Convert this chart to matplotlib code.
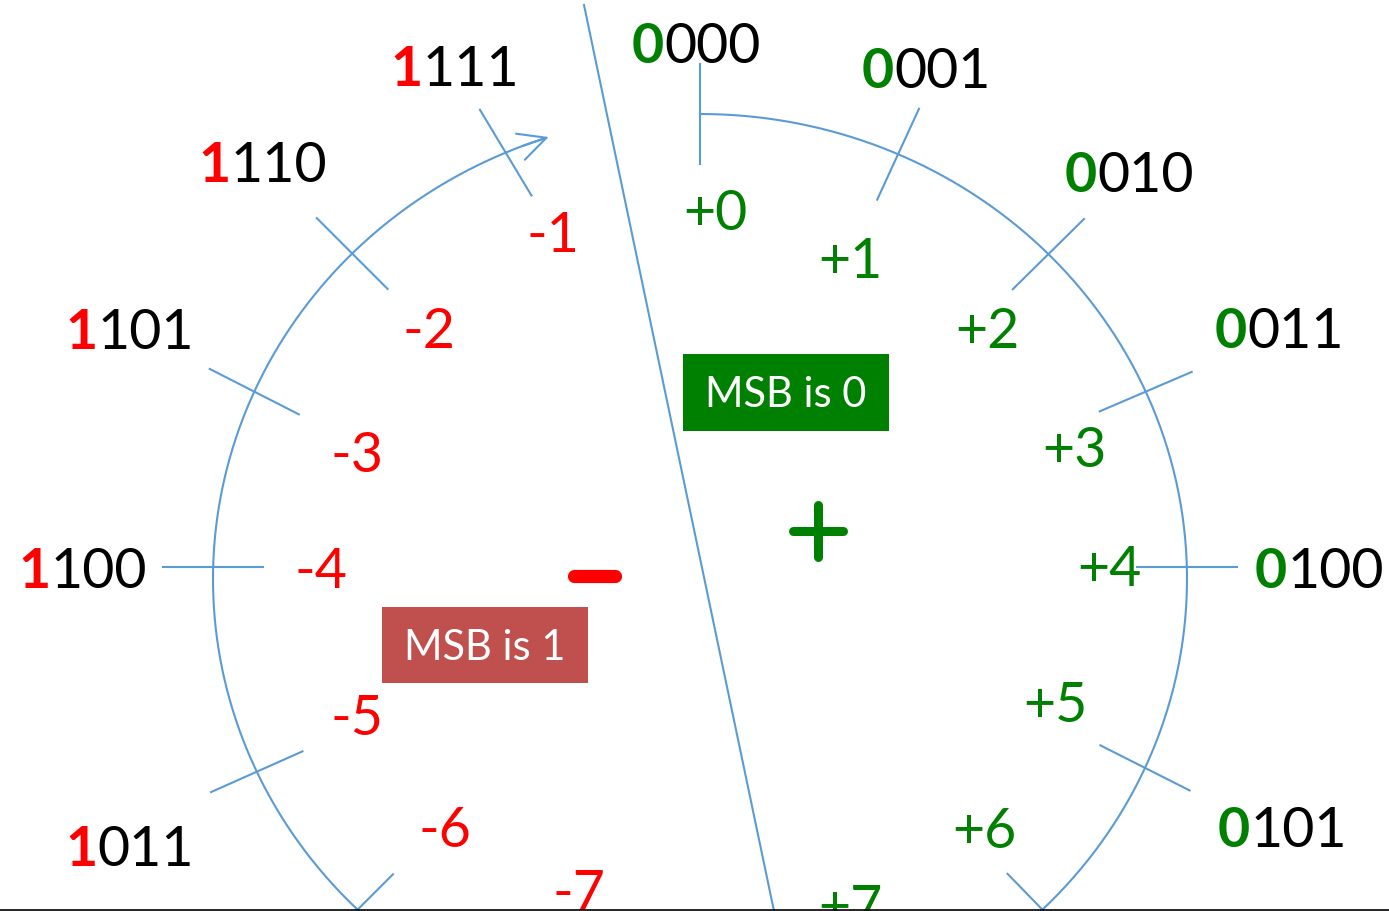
import numpy as np
import matplotlib
matplotlib.use('Agg')
import matplotlib.pyplot as plt

# data: codes and values around the wheel
pos_codes = ['0000', '0001', '0010', '0011', '0100', '0101']
neg_codes = ['1111', '1110', '1101', '1100', '1011']
pos_values = ['+0', '+1', '+2', '+3', '+4', '+5', '+6', '+7']
neg_values = ['-1', '-2', '-3', '-4', '-5', '-6', '-7']
msb_texts = ['MSB is 0', 'MSB is 1']

# layout (pixel coords, y down): left x, baseline y
pos_code_xy = [(632, 63), (862, 88), (1065, 192), (1215, 348), (1255, 588), (1218, 847)]
neg_code_xy = [(390, 86), (198, 182), (65, 349), (18, 588), (65, 866)]
pos_val_xy = [(683, 230), (818, 278), (955, 348), (1042, 467), (1077, 586),
              (1023, 722), (952, 848), (818, 925)]
neg_val_xy = [(527, 252), (402, 348), (330, 472), (295, 588), (330, 735),
              (419, 847), (552, 910)]
# tick layout: where each tick crosses the wheel (polar angle) and its direction
tick_cross = [0, 25, 47, 67.2, 88.6, 113, 134, 157.5,
              -24.5, -46.9, -67.2, -88.6, -113.5, -134, -157.5]
tick_dir = [0, 24.7, 45.4, 66.8, 90, 116.8, 135.8, 157.5,
            -31, -45, -63, -90, -114, -135, -157.5]

RED = '#FF0000'
GREEN = '#008000'
BLUE = '#5B9BD5'
FS = 40
FONT = 'Lato'

W, H = 1389, 912
fig = plt.figure(figsize=(W / 100, H / 100), dpi=100)
ax = fig.add_axes([0, 0, 1, 1])
ax.set_xlim(0, W)
ax.set_ylim(H, 0)
ax.axis('off')

cx, cy, ra, rb = 700, 580, 487, 465


def ell_r(th):
    return 1.0 / np.sqrt((np.sin(th) / ra) ** 2 + (np.cos(th) / rb) ** 2)


def ell_pts(t0, t1, n=400):
    th = np.deg2rad(np.linspace(t0, t1, n))
    r = ell_r(th)
    return cx + r * np.sin(th), cy - r * np.cos(th)


# arcs
x, y = ell_pts(0, 180)
ax.plot(x, y, color=BLUE, lw=1.5)
x, y = ell_pts(-180, -19.5)
ax.plot(x, y, color=BLUE, lw=1.5)
tx, ty = ell_pts(-19.5, -18.9, 2)
ax.annotate('', xy=(tx[1], ty[1]), xytext=(x[-8], y[-8]),
            arrowprops=dict(arrowstyle='->,head_length=0.9,head_width=0.45',
                            color=BLUE, lw=1.5, mutation_scale=22,
                            shrinkA=0, shrinkB=0))

# ticks
for a_c, a_d in zip(tick_cross, tick_dir):
    tc = np.deg2rad(a_c)
    rc = ell_r(tc)
    p = np.array([cx + rc * np.sin(tc), cy - rc * np.cos(tc)])
    td = np.deg2rad(a_d)
    d = np.array([np.sin(td), -np.cos(td)])
    p0 = p - d * 50
    p1 = p + d * 50
    ax.plot([p0[0], p1[0]], [p0[1], p1[1]], color=BLUE, lw=1.5)

# divider
ax.plot([584, 774], [6, 912], color=BLUE, lw=1.5)

r = fig.canvas.get_renderer()


def bin_label(xy, code, col):
    t = ax.text(xy[0], xy[1], code[0], color=col, fontweight='bold', fontsize=FS,
                family=FONT, ha='left', va='baseline')
    w = t.get_window_extent(renderer=r).width
    ax.text(xy[0] + w, xy[1], code[1:], color='black', fontsize=FS,
            family=FONT, ha='left', va='baseline')


for code, xy in zip(pos_codes, pos_code_xy):
    bin_label(xy, code, GREEN)
for code, xy in zip(neg_codes, neg_code_xy):
    bin_label(xy, code, RED)
for v, xy in zip(pos_values, pos_val_xy):
    ax.text(xy[0], xy[1], v, color=GREEN, fontsize=FS, family=FONT,
            ha='left', va='baseline')
for v, xy in zip(neg_values, neg_val_xy):
    ax.text(xy[0], xy[1], v, color=RED, fontsize=FS, family=FONT,
            ha='left', va='baseline')

# MSB boxes
ax.add_patch(plt.Rectangle((683, 355), 206, 77, color=GREEN, lw=0))
ax.text(786, 395, msb_texts[0], color='white', fontsize=30, family=FONT,
        ha='center', va='center')
ax.add_patch(plt.Rectangle((382, 608), 206, 76, color='#C0504D', lw=0))
ax.text(485, 648, msb_texts[1], color='white', fontsize=30, family=FONT,
        ha='center', va='center')

# big plus and minus
ax.plot([793, 843], [532, 532], color=GREEN, lw=6.5, solid_capstyle='round')
ax.plot([818, 818], [506, 558], color=GREEN, lw=6.5, solid_capstyle='round')
ax.plot([574, 615], [577, 577], color=RED, lw=9.5, solid_capstyle='round')

ax.axhline(911, color='black', lw=1.2, zorder=10)

fig.savefig('out.png', dpi=100)
